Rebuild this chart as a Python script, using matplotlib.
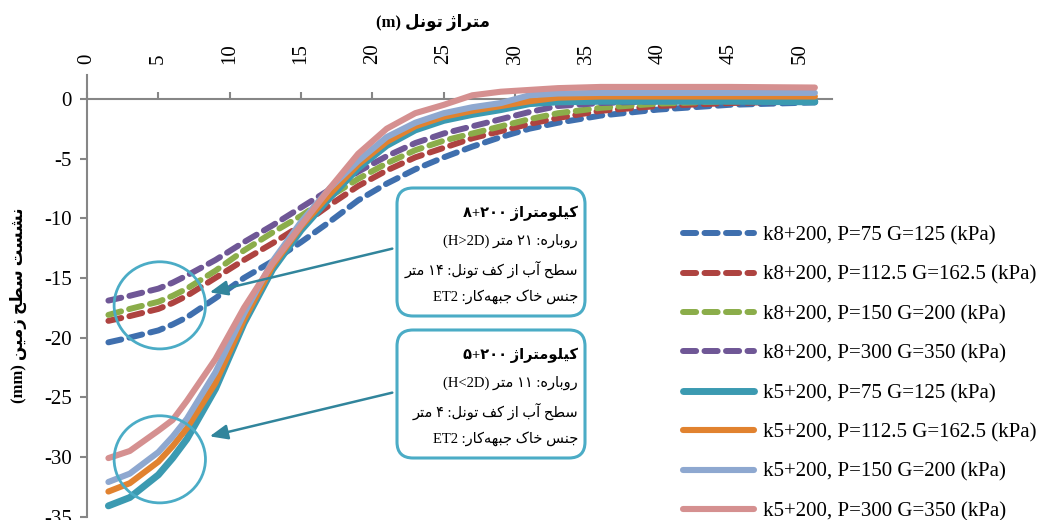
import re
import matplotlib
matplotlib.use('Agg')
import matplotlib.pyplot as plt
from matplotlib.patches import Ellipse, FancyBboxPatch, FancyArrowPatch
from matplotlib.transforms import IdentityTransform
from matplotlib import font_manager, ft2font

plt.rcParams['font.family'] = ['Liberation Serif', 'DejaVu Sans']
plt.rcParams['axes.unicode_minus'] = False

# distance along the tunnel (m)
x = [1.5, 3, 5, 6, 7, 9, 11, 13, 15, 17, 19, 21, 23, 25, 27, 29, 31, 33, 36, 40, 45, 51]

# surface settlement (mm), section k8+200
k8_p75 = [-20.4, -20.0, -19.4, -18.9, -18.3, -16.7, -15.0, -13.6, -12.0, -10.3, -8.5,
          -7.1, -5.9, -4.9, -4.0, -3.2, -2.5, -2.0, -1.4, -0.9, -0.5, -0.3]
k8_p112 = [-18.6, -18.2, -17.6, -17.1, -16.5, -15.0, -13.5, -12.1, -10.6, -8.9, -7.3,
           -6.0, -4.9, -4.1, -3.3, -2.7, -2.1, -1.6, -1.0, -0.6, -0.35, -0.2]
k8_p150 = [-18.1, -17.6, -17.0, -16.5, -15.9, -14.4, -12.7, -11.2, -9.8, -8.2, -6.7,
           -5.4, -4.3, -3.5, -2.9, -2.3, -1.7, -1.2, -0.75, -0.4, -0.2, -0.1]
k8_p300 = [-16.9, -16.5, -15.9, -15.4, -14.8, -13.5, -12.0, -10.6, -9.1, -7.6, -6.1,
           -4.8, -3.7, -2.9, -2.3, -1.7, -1.1, -0.6, -0.35, -0.2, -0.1, -0.05]

# surface settlement (mm), section k5+200
k5_p75 = [-34.1, -33.4, -31.5, -30.1, -28.5, -24.3, -18.8, -14.3, -11.0, -8.3, -5.8,
          -3.9, -2.6, -1.8, -1.3, -0.9, -0.4, -0.25, -0.2, -0.2, -0.2, -0.25]
k5_p112 = [-32.9, -32.2, -30.4, -29.1, -27.6, -23.8, -18.5, -14.0, -10.7, -8.0, -5.5,
           -3.6, -2.3, -1.5, -1.0, -0.6, -0.2, 0.1, 0.2, 0.2, 0.2, 0.2]
k5_p150 = [-32.1, -31.4, -29.6, -28.3, -26.8, -22.9, -18.0, -13.6, -10.3, -7.5, -5.2,
           -3.2, -2.0, -1.2, -0.7, -0.35, 0.3, 0.45, 0.5, 0.5, 0.5, 0.5]
k5_p300 = [-30.1, -29.5, -27.8, -26.9, -25.3, -21.8, -17.5, -13.8, -10.6, -7.5, -4.6,
           -2.5, -1.2, -0.5, 0.3, 0.6, 0.75, 0.9, 1.0, 1.0, 1.0, 0.95]

labels = ['k8+200, P=75 G=125 (kPa)', 'k8+200, P=112.5 G=162.5 (kPa)',
          'k8+200, P=150 G=200 (kPa)', 'k8+200, P=300 G=350 (kPa)',
          'k5+200, P=75 G=125 (kPa)', 'k5+200, P=112.5 G=162.5 (kPa)',
          'k5+200, P=150 G=200 (kPa)', 'k5+200, P=300 G=350 (kPa)']
series = [k8_p75, k8_p112, k8_p150, k8_p300, k5_p75, k5_p112, k5_p150, k5_p300]
colors = ['#3F6FAE', '#AE4340', '#8BAD4A', '#6F5796',
          '#3B9AB1', '#E1822F', '#8EA8D0', '#D59090']

x_ticks = list(range(0, 55, 5))
y_ticks = list(range(-35, 1, 5))

# --- minimal Persian shaping (matplotlib does no Arabic shaping) ---
FORMS = {
    'ا': (0xFE8D, 0xFE8E), 'آ': (0xFE81, 0xFE82), 'د': (0xFEA9, 0xFEAA),
    'ر': (0xFEAD, 0xFEAE), 'ز': (0xFEAF, 0xFEB0), 'ژ': (0xFB8A, 0xFB8B),
    'و': (0xFEED, 0xFEEE),
    'ب': (0xFE8F, 0xFE90, 0xFE91, 0xFE92), 'ت': (0xFE95, 0xFE96, 0xFE97, 0xFE98),
    'ج': (0xFE9D, 0xFE9E, 0xFE9F, 0xFEA0), 'ح': (0xFEA1, 0xFEA2, 0xFEA3, 0xFEA4),
    'خ': (0xFEA5, 0xFEA6, 0xFEA7, 0xFEA8), 'س': (0xFEB1, 0xFEB2, 0xFEB3, 0xFEB4),
    'ش': (0xFEB5, 0xFEB6, 0xFEB7, 0xFEB8), 'ط': (0xFEC1, 0xFEC2, 0xFEC3, 0xFEC4),
    'ف': (0xFED1, 0xFED2, 0xFED3, 0xFED4), 'ک': (0xFB8E, 0xFB8F, 0xFB90, 0xFB91),
    'ل': (0xFEDD, 0xFEDE, 0xFEDF, 0xFEE0), 'م': (0xFEE1, 0xFEE2, 0xFEE3, 0xFEE4),
    'ن': (0xFEE5, 0xFEE6, 0xFEE7, 0xFEE8), 'ه': (0xFEE9, 0xFEEA, 0xFEEB, 0xFEEC),
    'ی': (0xFBFC, 0xFBFD, 0xFBFE, 0xFBFF),
}
_dv = ft2font.FT2Font(font_manager.findfont('DejaVu Sans'))
if not _dv.get_char_index(0xFB90):
    FORMS['ک'] = (0xFED9, 0xFEDA, 0xFEDB, 0xFEDC)
if not _dv.get_char_index(0xFBFE):
    FORMS['ی'] = (0xFEEF, 0xFEF0, 0xFEF3, 0xFEF4)


def shape(word):
    out = []
    for i, ch in enumerate(word):
        if ch not in FORMS:
            continue  # zwnj
        prev = word[i - 1] if i > 0 else ''
        nxt = word[i + 1] if i + 1 < len(word) else ''
        jp = len(FORMS.get(prev, ())) == 4
        jn = len(FORMS[ch]) == 4 and nxt in FORMS
        f = FORMS[ch]
        out.append(chr(f[3] if jp and jn else f[1] if jp else f[2] if jn else f[0]))
    return ''.join(out)


def fa(text):
    runs = re.findall(r'[\u0621-\u064A\u067E\u0686\u0698\u06A9\u06AF\u06CC\u200c]+'
                      r'|[A-Za-z0-9\u06F0-\u06F9+<>()=.]+|.', text)
    out = []
    for r in reversed(runs):
        out.append(shape(r)[::-1] if r[0] in FORMS else r)
    return ''.join(out)


FAM = ['Liberation Serif', 'DejaVu Sans']
PX = IdentityTransform()
H = 520

fig = plt.figure(figsize=(10.46, 5.2), dpi=100)
ax = fig.add_axes([87 / 1046, 3.4 / H, 745 / 1046, 441.6 / H])

for i in range(4):
    ax.plot(x, series[i], color=colors[i], lw=4.3, dashes=(2.2, 1.4),
            dash_capstyle='round', label=labels[i], zorder=2)
for i in [5, 4, 6, 7]:
    ax.plot(x, series[i], color=colors[i], lw=5 if i == 4 else 4.4,
            solid_capstyle='round', solid_joinstyle='round', label=labels[i], zorder=3 + i)

ax.set_xlim(0, 52.2)
ax.set_ylim(-35, 2)
ax.set_xticks(x_ticks)
ax.set_yticks(y_ticks)
for s in ['right', 'bottom']:
    ax.spines[s].set_visible(False)
ax.spines['top'].set_position(('data', 0))
for s in ['top', 'left']:
    ax.spines[s].set_color('#868686')
    ax.spines[s].set_linewidth(1.5)
ax.xaxis.set_ticks_position('top')
ax.yaxis.set_ticks_position('left')
ax.tick_params(axis='x', direction='out', length=5, width=1.5, color='#868686',
               pad=20, labelrotation=90, labelsize=15)
ax.tick_params(axis='y', direction='out', length=5, width=1.5, color='#868686',
               pad=6, labelsize=15)

handles, labs = ax.get_legend_handles_labels()
order = [labels.index(l) for l in labs]
handles = [h for _, h in sorted(zip(order, handles), key=lambda t: t[0])]
ax.legend(handles, labels, loc='upper left', bbox_to_anchor=(683, H - 226),
          bbox_transform=PX, frameon=False, borderpad=0, borderaxespad=0,
          handlelength=3.4, handletextpad=0.45, labelspacing=0.95,
          prop={'family': 'Liberation Serif', 'size': 15})

# axis titles
fig.text(433, H - 22, fa('متراژ تونل (m)'), transform=PX, ha='center', va='center',
         fontsize=12, fontweight='bold', family=FAM)
fig.text(18, H - 305, fa('نشست سطح زمین (mm)'), transform=PX, ha='center',
         va='center', rotation=90, fontsize=12, fontweight='bold', family=FAM)

# highlight circles
for cy in [-17.3, -30.2]:
    ax.add_patch(Ellipse((5.1, cy), 6.4, 7.3, fill=False, ec='#4BACC6', lw=2,
                         zorder=20, clip_on=False))

# info boxes
boxes = [
    (188, ['کیلومتراژ ۸+۲۰۰', 'روباره: ۲۱ متر (H>2D)', 'سطح آب از کف تونل: ۱۴ متر',
           'جنس خاک جبهه\u200cکار: ET2'], (248, 293)),
    (330, ['کیلومتراژ ۵+۲۰۰', 'روباره: ۱۱ متر (H<2D)', 'سطح آب از کف تونل: ۴ متر',
           'جنس خاک جبهه\u200cکار: ET2'], (392, 437)),
]
for top, lines, (ay0, ay1) in boxes:
    fig.add_artist(FancyBboxPatch((397, H - top - 128), 188, 128,
                                  boxstyle='round,pad=0,rounding_size=16', transform=PX,
                                  fc='white', ec='#4BACC6', lw=2.2, zorder=30))
    for j, line in enumerate(lines):
        fig.text(578, H - (top + 25 + j * 28), fa(line), transform=PX, ha='right',
                 va='center', fontsize=10.5, family=FAM,
                 fontweight='bold' if j == 0 else 'normal', zorder=31)
    fig.add_artist(FancyArrowPatch((395, H - ay0), (207, H - ay1), transform=PX,
                                   arrowstyle='-|>,head_length=0.6,head_width=0.25',
                                   mutation_scale=18, color='#31859C', lw=1.8, zorder=25))

fig.savefig('out.png', dpi=100)
